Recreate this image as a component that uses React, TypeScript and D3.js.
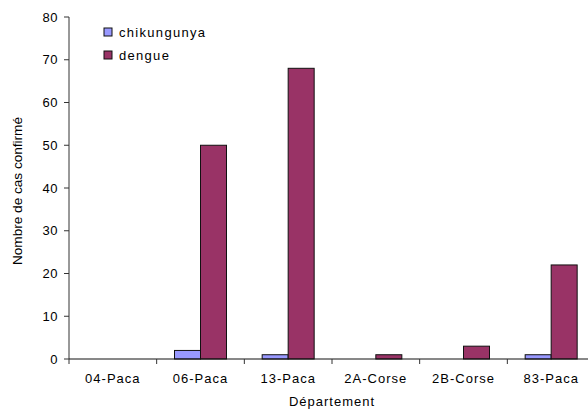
import React from "react";
import * as d3 from "d3";

const categories = ["04-Paca", "06-Paca", "13-Paca", "2A-Corse", "2B-Corse", "83-Paca"];
const chikungunya = [0, 2, 1, 0, 0, 1];
const dengue = [0, 50, 68, 1, 3, 22];
const seriesNames = ["chikungunya", "dengue"];
const seriesColors = ["#9999FF", "#993366"];
const yTicks = [0, 10, 20, 30, 40, 50, 60, 70, 80];

export default function App() {
  const W = 588, H = 410;
  const left = 69, right = 595, top = 17, bottom = 359;
  const x = d3.scaleBand<string>().domain(categories).range([left, right]);
  const y = d3.scaleLinear().domain([0, 80]).range([bottom, top]);
  const barW = 26;
  const series = [chikungunya, dengue];
  const font = "Liberation Sans, Arial, sans-serif";
  return (
    <svg width={W} height={H} style={{ position: "absolute", left: 0, top: 0, background: "#fff" }}>
      {categories.map((c, i) => {
        const cx = (x(c) as number) + x.bandwidth() / 2;
        return series.map((s, k) => {
          const v = s[i];
          if (v <= 0) return null;
          const x0 = cx - barW + k * barW;
          return (
            <rect key={c + k} x={x0} y={y(v)} width={barW} height={y(0) - y(v)}
              fill={seriesColors[k]} stroke="#111" strokeWidth={1} />
          );
        });
      })}
      <line x1={left} x2={left} y1={top} y2={bottom} stroke="#333" />
      {yTicks.map((t) => (
        <g key={t}>
          <line x1={left - 5} x2={left} y1={y(t)} y2={y(t)} stroke="#333" />
          <text x={left - 11} y={y(t)} dy="0.35em" textAnchor="end" fontFamily={font} fontSize={13} letterSpacing={0.5}>{t}</text>
        </g>
      ))}
      <line x1={left} x2={right} y1={bottom} y2={bottom} stroke="#111" />
      {categories.map((c) => (
        <line key={"t" + c} x1={(x(c) as number)} x2={(x(c) as number)} y1={bottom} y2={bottom + 5} stroke="#333" />
      ))}
      <line x1={right} x2={right} y1={bottom} y2={bottom + 5} stroke="#333" />
      {categories.map((c) => (
        <text key={"l" + c} x={(x(c) as number) + x.bandwidth() / 2} y={383} textAnchor="middle" fontFamily={font} fontSize={13} letterSpacing={1}>{c}</text>
      ))}
      <text x={332} y={406} textAnchor="middle" fontFamily={font} fontSize={13} letterSpacing={1}>Département</text>
      <text transform="translate(22,191) rotate(-90)" textAnchor="middle" fontFamily={font} fontSize={12} textLength={148} lengthAdjust="spacingAndGlyphs">Nombre de cas confirmé</text>
      {seriesNames.map((n, k) => (
        <g key={n}>
          <rect x={104} y={28 + k * 23} width={8} height={8} fill={seriesColors[k]} stroke="#111" strokeWidth={1} />
          <text x={119} y={37 + k * 23} fontFamily={font} fontSize={13} letterSpacing={1.3}>{n}</text>
        </g>
      ))}
    </svg>
  );
}
